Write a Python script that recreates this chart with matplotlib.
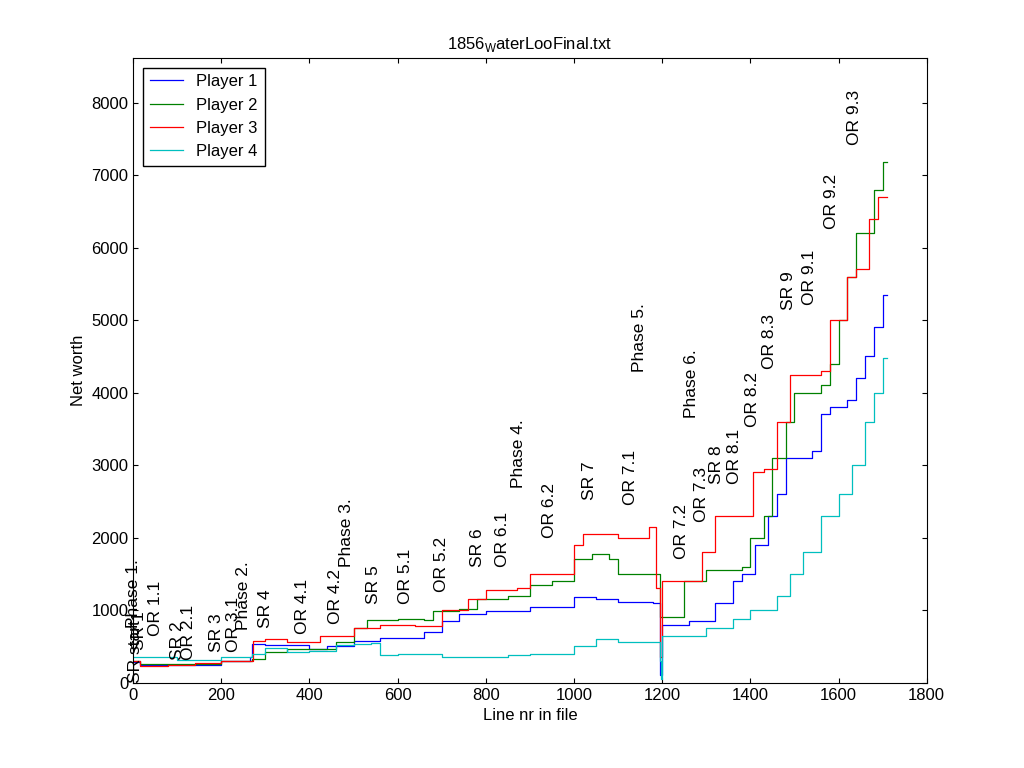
import matplotlib
matplotlib.use('Agg')
import matplotlib.pyplot as plt

plt.rcParams['font.family'] = ['Liberation Sans', 'DejaVu Sans']
plt.rcParams['mathtext.fontset'] = 'custom'
plt.rcParams['mathtext.rm'] = 'Liberation Sans'

# ================= 数据 =================
p1_x = [0, 15, 100, 200, 265, 270, 300, 400, 440, 500, 560, 660, 700, 740, 800, 900, 1000, 1050, 1100, 1180, 1195, 1200,
        1260, 1320, 1360, 1380, 1410, 1440, 1460, 1480, 1540, 1560, 1580, 1620, 1640, 1660, 1680, 1700, 1710]
p1_y = [280, 250, 250, 300, 350, 530, 520, 470, 500, 580, 620, 700, 850, 950, 990, 1050, 1180, 1150, 1120, 1100, 100, 800,
        850, 1100, 1400, 1500, 1900, 2300, 2600, 3100, 3200, 3700, 3800, 3900, 4200, 4500, 4900, 5350, 5350]
p2_x = [0, 15, 80, 200, 270, 300, 350, 400, 460, 500, 530, 600, 660, 680, 740, 780, 850, 900, 950, 1000, 1040, 1080, 1100,
        1180, 1195, 1250, 1300, 1380, 1400, 1430, 1450, 1480, 1500, 1560, 1580, 1600, 1620, 1640, 1680, 1700, 1710]
p2_y = [300, 260, 260, 300, 330, 420, 470, 470, 560, 750, 870, 880, 860, 990, 1020, 1150, 1200, 1350, 1400, 1700, 1780, 1700,
        1500, 1500, 900, 1400, 1550, 1600, 2000, 2300, 3100, 3600, 4000, 4100, 4400, 5000, 5600, 6200, 6800, 7180, 7180]
p3_x = [0, 15, 80, 140, 200, 272, 300, 350, 425, 460, 500, 560, 640, 700, 760, 800, 870, 900, 1000, 1020, 1100, 1170, 1185,
        1195, 1200, 1260, 1290, 1320, 1405, 1430, 1460, 1490, 1560, 1580, 1620, 1640, 1670, 1690, 1710]
p3_y = [300, 230, 250, 270, 300, 570, 600, 560, 640, 650, 760, 800, 780, 1000, 1150, 1280, 1300, 1500, 1900, 2050, 2000, 2150,
        1300, 350, 1400, 1400, 1800, 2300, 2900, 2950, 3600, 4250, 4300, 5000, 5600, 5700, 6400, 6700, 6700]
p4_x = [0, 30, 100, 200, 270, 300, 350, 400, 460, 500, 540, 560, 600, 700, 850, 900, 1000, 1050, 1100, 1195, 1198, 1200,
        1300, 1360, 1400, 1460, 1490, 1520, 1560, 1600, 1630, 1660, 1680, 1700, 1710]
p4_y = [350, 350, 320, 360, 390, 480, 420, 440, 520, 530, 550, 380, 400, 350, 380, 400, 500, 600, 560, 300, 50, 650,
        750, 880, 1000, 1200, 1500, 1800, 2300, 2600, 3000, 3600, 4000, 4480, 4480]

labels = ['SR start', 'SR 1', 'Phase 1.', 'OR 1.1', 'SR 2', 'OR 2.1', 'SR 3', 'OR 3.1', 'Phase 2.', 'SR 4',
          'OR 4.1', 'OR 4.2', 'Phase 3.', 'SR 5', 'OR 5.1', 'OR 5.2', 'SR 6', 'OR 6.1', 'Phase 4.', 'OR 6.2',
          'SR 7', 'OR 7.1', 'Phase 5.', 'OR 7.2', 'OR 7.3', 'SR 8', 'OR 8.1', 'Phase 6.', 'OR 8.2', 'OR 8.3',
          'SR 9', 'OR 9.1', 'OR 9.2', 'OR 9.3']
label_x = [5, 15, 0, 50, 100, 125, 188, 227, 250, 300, 385, 460, 483, 545, 617, 700, 780, 838, 873, 945,
           1036, 1127, 1149, 1244, 1290, 1324, 1365, 1267, 1405, 1444, 1487, 1535, 1585, 1637]
label_y = [0, 450, 760, 650, 320, 320, 430, 430, 730, 760, 675, 815, 1590, 1090, 1090, 1255, 1590, 1590, 2690, 2000,
           2520, 2450, 4290, 1700, 2220, 2740, 2740, 3650, 3520, 4320, 5140, 5210, 6250, 7420]

# ================= 绘图 =================
fig = plt.figure(figsize=(10.24, 7.68), dpi=100)
ax = fig.add_axes([0.130, 0.111, 0.775, 0.814])
ax.plot(p1_x, p1_y, color='#0000ff', lw=0.9, drawstyle='steps-post', label='Player 1')
ax.plot(p2_x, p2_y, color='#008000', lw=0.9, drawstyle='steps-post', label='Player 2')
ax.plot(p3_x, p3_y, color='#ff0000', lw=0.9, drawstyle='steps-post', label='Player 3')
ax.plot(p4_x, p4_y, color='#00bfbf', lw=0.9, drawstyle='steps-post', label='Player 4')

for t, x, y in zip(labels, label_x, label_y):
    ax.text(x, y, t, rotation=90, ha='center', va='bottom', fontsize=12.5)

ax.set_xlim(0, 1800)
ax.set_ylim(0, 8620)
ax.set_xticks(range(0, 1801, 200))
ax.set_yticks(range(0, 8001, 1000))
ax.tick_params(direction='in', top=True, right=True, labelsize=12)
ax.set_xlabel('Line nr in file', fontsize=12)
ax.set_ylabel('Net worth', fontsize=12)
ax.set_title('1856$_{\\mathrm{W}}$aterLooFinal.txt', fontsize=12)
ax.legend(loc='upper left', fontsize=12, fancybox=False, edgecolor='black', framealpha=1, borderaxespad=0.6)

fig.savefig('out.png', dpi=100)
